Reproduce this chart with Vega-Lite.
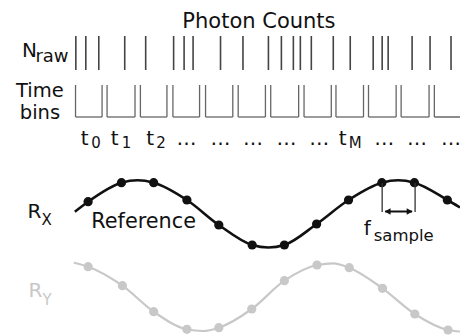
{
  "$schema": "https://vega.github.io/schema/vega-lite/v6.json",
  "width": 461,
  "height": 335,
  "autosize": {"type": "fit", "contains": "padding"},
  "padding": 0,
  "background": "white",
  "config": {"view": {"stroke": null}, "text": {"font": "DejaVu Sans"}},
  "datasets": {
    "photons": [{"x":76},{"x":86},{"x":99},{"x":125},{"x":146},{"x":174},{"x":184.5},{"x":193.5},{"x":221},{"x":243.5},{"x":269},{"x":282},{"x":294},{"x":301},{"x":312},{"x":334},{"x":351},{"x":374},{"x":383},{"x":389},{"x":413},{"x":431},{"x":452}],
    "bins": [{"x0":75.7,"x1":102.3},{"x0":107.3,"x1":135.3},{"x0":140.7,"x1":167.3},{"x0":173.3,"x1":200},{"x0":206,"x1":233.3},{"x0":238.7,"x1":266},{"x0":271.3,"x1":299.3},{"x0":304.7,"x1":332},{"x0":336.7,"x1":364.3},{"x0":369.3,"x1":397},{"x0":402,"x1":430},{"x0":435.3,"x1":470}],
    "rx_line": [{"x":75,"y":211.7},{"x":88.3,"y":201.7},{"x":121.7,"y":182.7},{"x":138,"y":180.3},{"x":154,"y":182.7},{"x":187.3,"y":200},{"x":219.3,"y":225},{"x":252.7,"y":245},{"x":269,"y":247.5},{"x":285,"y":245},{"x":317.3,"y":224},{"x":349.3,"y":200},{"x":382.7,"y":182.7},{"x":399,"y":180.3},{"x":415.3,"y":182.7},{"x":448.3,"y":200},{"x":461,"y":207.5}],
    "rx_dots": [{"x":88.3,"y":201.7},{"x":121.7,"y":182.7},{"x":154,"y":182.7},{"x":187.3,"y":200},{"x":219.3,"y":225},{"x":252.7,"y":245},{"x":285,"y":245},{"x":317.3,"y":224},{"x":349.3,"y":200},{"x":382.7,"y":182.7},{"x":415.3,"y":182.7},{"x":448.3,"y":200}],
    "ry_line": [{"x":74,"y":262.7},{"x":88.3,"y":266.7},{"x":122.7,"y":285.7},{"x":154,"y":311.7},{"x":187.3,"y":329.3},{"x":203,"y":331},{"x":219.3,"y":327.7},{"x":252.3,"y":309},{"x":285,"y":280.7},{"x":317.7,"y":265},{"x":334,"y":263.3},{"x":350,"y":267.7},{"x":383.3,"y":288.3},{"x":415.7,"y":314},{"x":449,"y":330},{"x":461,"y":331.5}],
    "ry_dots": [{"x":88.3,"y":266.7},{"x":122.7,"y":285.7},{"x":154,"y":311.7},{"x":187.3,"y":329.3},{"x":219.3,"y":327.7},{"x":252.3,"y":309},{"x":285,"y":280.7},{"x":317.7,"y":265},{"x":350,"y":267.7},{"x":383.3,"y":288.3},{"x":415.7,"y":314},{"x":449,"y":330}]
  },
  "layer": [
    {
      "data": {"name": "photons"},
      "mark": {"type": "rule", "color": "#444444", "strokeWidth": 1.6},
      "encoding": {
        "x": {"field": "x", "type": "quantitative", "scale": {"domain": [0,461], "nice": false, "zero": false}, "axis": null},
        "y": {"datum": 36, "type": "quantitative", "scale": {"domain": [0,335], "nice": false, "zero": false, "reverse": true}, "axis": null},
        "y2": {"datum": 70}
      }
    },
    {
      "data": {"name": "bins"},
      "mark": {"type": "rule", "color": "#666666", "strokeWidth": 1.3, "clip": true},
      "encoding": {
        "x": {"field": "x0", "type": "quantitative", "scale": {"domain": [0,461], "nice": false, "zero": false}, "axis": null},
        "y": {"datum": 85, "type": "quantitative", "scale": {"domain": [0,335], "nice": false, "zero": false, "reverse": true}, "axis": null},
        "y2": {"datum": 117}
      }
    },
    {
      "data": {"name": "bins"},
      "mark": {"type": "rule", "color": "#666666", "strokeWidth": 1.3, "clip": true},
      "encoding": {
        "x": {"field": "x1", "type": "quantitative", "scale": {"domain": [0,461], "nice": false, "zero": false}, "axis": null},
        "y": {"datum": 85, "type": "quantitative", "scale": {"domain": [0,335], "nice": false, "zero": false, "reverse": true}, "axis": null},
        "y2": {"datum": 117}
      }
    },
    {
      "data": {"name": "bins"},
      "mark": {"type": "rule", "color": "#666666", "strokeWidth": 1.3, "clip": true},
      "encoding": {
        "x": {"field": "x0", "type": "quantitative", "scale": {"domain": [0,461], "nice": false, "zero": false}, "axis": null},
        "x2": {"field": "x1"},
        "y": {"datum": 117, "type": "quantitative", "scale": {"domain": [0,335], "nice": false, "zero": false, "reverse": true}, "axis": null}
      }
    },
    {
      "data": {"name": "ry_line"},
      "mark": {"type": "line", "color": "#c8c8c8", "strokeWidth": 2.2, "interpolate": "monotone", "clip": true},
      "encoding": {
        "x": {"field": "x", "type": "quantitative", "scale": {"domain": [0,461], "nice": false, "zero": false}, "axis": null},
        "y": {"field": "y", "type": "quantitative", "scale": {"domain": [0,335], "nice": false, "zero": false, "reverse": true}, "axis": null}
      }
    },
    {
      "data": {"name": "ry_dots"},
      "mark": {"type": "point", "filled": true, "color": "#c8c8c8", "size": 85, "opacity": 1},
      "encoding": {
        "x": {"field": "x", "type": "quantitative", "scale": {"domain": [0,461], "nice": false, "zero": false}, "axis": null},
        "y": {"field": "y", "type": "quantitative", "scale": {"domain": [0,335], "nice": false, "zero": false, "reverse": true}, "axis": null}
      }
    },
    {
      "data": {"name": "rx_line"},
      "mark": {"type": "line", "color": "#111111", "strokeWidth": 2.6, "interpolate": "monotone", "clip": true},
      "encoding": {
        "x": {"field": "x", "type": "quantitative", "scale": {"domain": [0,461], "nice": false, "zero": false}, "axis": null},
        "y": {"field": "y", "type": "quantitative", "scale": {"domain": [0,335], "nice": false, "zero": false, "reverse": true}, "axis": null}
      }
    },
    {
      "data": {"name": "rx_dots"},
      "mark": {"type": "point", "filled": true, "color": "#111111", "size": 85, "opacity": 1},
      "encoding": {
        "x": {"field": "x", "type": "quantitative", "scale": {"domain": [0,461], "nice": false, "zero": false}, "axis": null},
        "y": {"field": "y", "type": "quantitative", "scale": {"domain": [0,335], "nice": false, "zero": false, "reverse": true}, "axis": null}
      }
    },
    {
      "data": {"values": [{"x": 383, "y": 183, "y2": 212}, {"x": 416, "y": 183, "y2": 212}]},
      "mark": {"type": "rule", "color": "#333333", "strokeWidth": 1.3},
      "encoding": {
        "x": {"field": "x", "type": "quantitative", "scale": {"domain": [0,461], "nice": false, "zero": false}, "axis": null},
        "y": {"field": "y", "type": "quantitative", "scale": {"domain": [0,335], "nice": false, "zero": false, "reverse": true}, "axis": null},
        "y2": {"field": "y2"}
      }
    },
    {
      "data": {"values": [{"x": 386, "x2": 413, "y": 211.5}]},
      "mark": {"type": "rule", "color": "#111111", "strokeWidth": 2},
      "encoding": {
        "x": {"field": "x", "type": "quantitative", "scale": {"domain": [0,461], "nice": false, "zero": false}, "axis": null},
        "x2": {"field": "x2"},
        "y": {"field": "y", "type": "quantitative", "scale": {"domain": [0,335], "nice": false, "zero": false, "reverse": true}, "axis": null}
      }
    },
    {
      "data": {"values": [{"x": 388.5, "y": 211.5}]},
      "mark": {"type": "point", "shape": "triangle-left", "filled": true, "color": "#111111", "size": 45, "opacity": 1},
      "encoding": {
        "x": {"field": "x", "type": "quantitative", "scale": {"domain": [0,461], "nice": false, "zero": false}, "axis": null},
        "y": {"field": "y", "type": "quantitative", "scale": {"domain": [0,335], "nice": false, "zero": false, "reverse": true}, "axis": null}
      }
    },
    {
      "data": {"values": [{"x": 410.5, "y": 211.5}]},
      "mark": {"type": "point", "shape": "triangle-right", "filled": true, "color": "#111111", "size": 45, "opacity": 1},
      "encoding": {
        "x": {"field": "x", "type": "quantitative", "scale": {"domain": [0,461], "nice": false, "zero": false}, "axis": null},
        "y": {"field": "y", "type": "quantitative", "scale": {"domain": [0,335], "nice": false, "zero": false, "reverse": true}, "axis": null}
      }
    },
    {
      "data": {"values": [{"x": 259.5, "y": 28, "label": "Photon Counts"}]},
      "mark": {"type": "text", "fontSize": 21, "align": "center", "baseline": "alphabetic", "color": "#111111"},
      "encoding": {
        "x": {"field": "x", "type": "quantitative", "scale": {"domain": [0,461], "nice": false, "zero": false}, "axis": null},
        "y": {"field": "y", "type": "quantitative", "scale": {"domain": [0,335], "nice": false, "zero": false, "reverse": true}, "axis": null},
        "text": {"field": "label"}
      }
    },
    {
      "data": {"values": [{"x": 40, "y": 97, "label": "Time"}, {"x": 40, "y": 119, "label": "bins"}]},
      "mark": {"type": "text", "fontSize": 19.5, "align": "center", "baseline": "alphabetic", "color": "#111111"},
      "encoding": {
        "x": {"field": "x", "type": "quantitative", "scale": {"domain": [0,461], "nice": false, "zero": false}, "axis": null},
        "y": {"field": "y", "type": "quantitative", "scale": {"domain": [0,335], "nice": false, "zero": false, "reverse": true}, "axis": null},
        "text": {"field": "label"}
      }
    },
    {
      "data": {"values": [
        {"x": 22, "y": 57.3, "label": "N"},
        {"x": 81, "y": 145, "label": "t"},
        {"x": 111, "y": 145, "label": "t"},
        {"x": 146.5, "y": 145, "label": "t"},
        {"x": 177, "y": 145, "label": "…"},
        {"x": 211, "y": 145, "label": "…"},
        {"x": 243.5, "y": 145, "label": "…"},
        {"x": 277, "y": 145, "label": "…"},
        {"x": 310, "y": 145, "label": "…"},
        {"x": 339.5, "y": 145, "label": "t"},
        {"x": 375, "y": 145, "label": "…"},
        {"x": 408, "y": 145, "label": "…"},
        {"x": 442, "y": 145, "label": "…"},
        {"x": 27.5, "y": 218, "label": "R"},
        {"x": 364.5, "y": 235, "label": "f"}
      ]},
      "mark": {"type": "text", "fontSize": 20, "align": "left", "baseline": "alphabetic", "color": "#111111"},
      "encoding": {
        "x": {"field": "x", "type": "quantitative", "scale": {"domain": [0,461], "nice": false, "zero": false}, "axis": null},
        "y": {"field": "y", "type": "quantitative", "scale": {"domain": [0,335], "nice": false, "zero": false, "reverse": true}, "axis": null},
        "text": {"field": "label"}
      }
    },
    {
      "data": {"values": [{"x": 91.5, "y": 228, "label": "Reference"}]},
      "mark": {"type": "text", "fontSize": 20.8, "align": "left", "baseline": "alphabetic", "color": "#111111"},
      "encoding": {
        "x": {"field": "x", "type": "quantitative", "scale": {"domain": [0,461], "nice": false, "zero": false}, "axis": null},
        "y": {"field": "y", "type": "quantitative", "scale": {"domain": [0,335], "nice": false, "zero": false, "reverse": true}, "axis": null},
        "text": {"field": "label"}
      }
    },
    {
      "data": {"values": [
        {"x": 91.5, "y": 148, "label": "0"},
        {"x": 122, "y": 148, "label": "1"},
        {"x": 156.5, "y": 148, "label": "2"},
        {"x": 349.5, "y": 148, "label": "M"},
        {"x": 41.5, "y": 225, "label": "X"}
      ]},
      "mark": {"type": "text", "fontSize": 15, "align": "left", "baseline": "alphabetic", "color": "#111111"},
      "encoding": {
        "x": {"field": "x", "type": "quantitative", "scale": {"domain": [0,461], "nice": false, "zero": false}, "axis": null},
        "y": {"field": "y", "type": "quantitative", "scale": {"domain": [0,335], "nice": false, "zero": false, "reverse": true}, "axis": null},
        "text": {"field": "label"}
      }
    },
    {
      "data": {"values": [{"x": 35.5, "y": 62, "label": "raw"}]},
      "mark": {"type": "text", "fontSize": 18, "align": "left", "baseline": "alphabetic", "color": "#111111"},
      "encoding": {
        "x": {"field": "x", "type": "quantitative", "scale": {"domain": [0,461], "nice": false, "zero": false}, "axis": null},
        "y": {"field": "y", "type": "quantitative", "scale": {"domain": [0,335], "nice": false, "zero": false, "reverse": true}, "axis": null},
        "text": {"field": "label"}
      }
    },
    {
      "data": {"values": [{"x": 374.5, "y": 241, "label": "sample"}]},
      "mark": {"type": "text", "fontSize": 16.5, "align": "left", "baseline": "alphabetic", "color": "#111111"},
      "encoding": {
        "x": {"field": "x", "type": "quantitative", "scale": {"domain": [0,461], "nice": false, "zero": false}, "axis": null},
        "y": {"field": "y", "type": "quantitative", "scale": {"domain": [0,335], "nice": false, "zero": false, "reverse": true}, "axis": null},
        "text": {"field": "label"}
      }
    },
    {
      "data": {"values": [{"x": 28.5, "y": 297, "label": "R"}]},
      "mark": {"type": "text", "fontSize": 20, "align": "left", "baseline": "alphabetic", "color": "#c8c8c8"},
      "encoding": {
        "x": {"field": "x", "type": "quantitative", "scale": {"domain": [0,461], "nice": false, "zero": false}, "axis": null},
        "y": {"field": "y", "type": "quantitative", "scale": {"domain": [0,335], "nice": false, "zero": false, "reverse": true}, "axis": null},
        "text": {"field": "label"}
      }
    },
    {
      "data": {"values": [{"x": 42.5, "y": 305, "label": "Y"}]},
      "mark": {"type": "text", "fontSize": 15, "align": "left", "baseline": "alphabetic", "color": "#c8c8c8"},
      "encoding": {
        "x": {"field": "x", "type": "quantitative", "scale": {"domain": [0,461], "nice": false, "zero": false}, "axis": null},
        "y": {"field": "y", "type": "quantitative", "scale": {"domain": [0,335], "nice": false, "zero": false, "reverse": true}, "axis": null},
        "text": {"field": "label"}
      }
    }
  ]
}
